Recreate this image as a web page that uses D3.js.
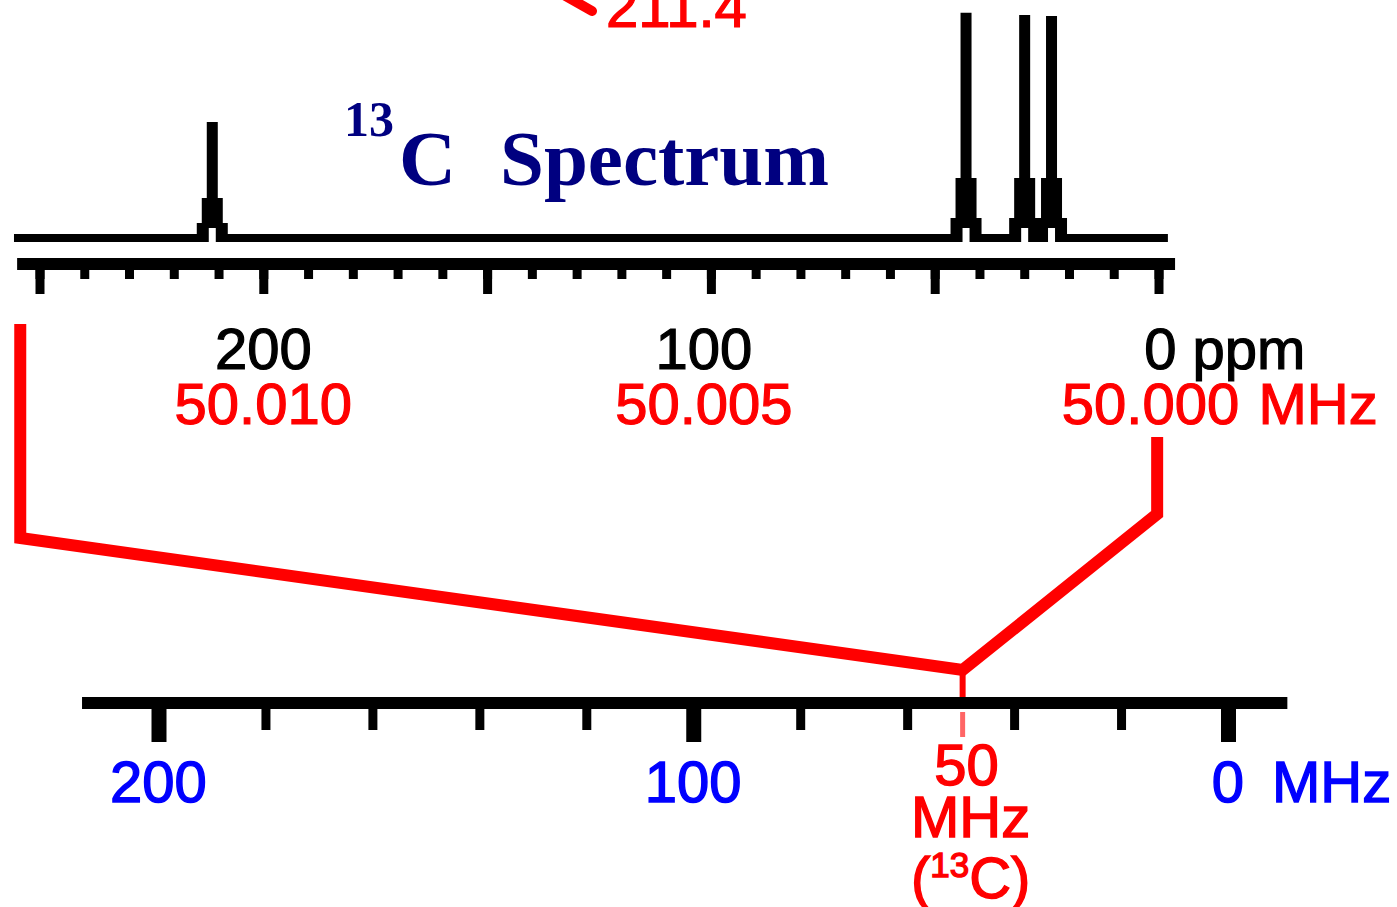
<!DOCTYPE html>
<html>
<head>
<meta charset="utf-8">
<script src="https://cdn.jsdelivr.net/npm/d3@7"></script>
<style>
  html, body { margin: 0; padding: 0; background: #fff; overflow: hidden; }
  svg { display: block; }
</style>
</head>
<body>
<svg id="chart" width="1397" height="907"></svg>
<script>
// ---------------- data ----------------
const peakPpm = [211.4, 43.0, 29.9, 23.9];
const peakIntensity = [0.52, 1.01, 1.0, 0.995];
const peakLabel = "211.4";
const ppmMajorTicks = [250, 200, 150, 100, 50, 0];
const ppmMinorTicks = d3.range(0, 251, 10);
const ppmLabels = [200, 100, 0];
const freqLabels = ["50.010", "50.005", "50.000"];
const ppmUnit = "ppm";
const freqUnit = "MHz";
const mhzMajorTicks = [200, 100, 0];
const mhzMinorTicks = [180, 160, 140, 120, 80, 60, 40, 20];
const mhzLabels = [200, 100, 0];
const carbonFreq = 50;
const titleSup = "13";
const titleMain = "C";
const titleWord = "Spectrum";

// ---------------- scales ----------------
const svg = d3.select("#chart");
const ppm = d3.scaleLinear().domain([250, 0]).range([39.5, 1158.5]);
const inten = d3.scaleLinear().domain([0, 1]).range([238, 15]);
const mhz = d3.scaleLinear().domain([200, 0]).range([158.5, 1228]);

const RED = "#ff0000", BLUE = "#0000ff", NAVY = "#000080";
const SANS = "'Liberation Sans', Arial, sans-serif";
const SERIF = "'Liberation Serif', 'Times New Roman', serif";
const labelOffset = x => (x === 100 ? -7 : 0);

// ---------------- top spectrum ----------------
const base = inten(0);
svg.append("line")
  .attr("x1", ppm(255.7)).attr("x2", ppm(-2.1))
  .attr("y1", base).attr("y2", base)
  .attr("stroke", "#000").attr("stroke-width", 8);

const peaks = peakPpm.map((p, i) => ({ ppm: p, h: peakIntensity[i] }));
function peakPath(d) {
  const cx = ppm(d.ppm), top = inten(d.h), H = base - top;
  const sh = Math.min(60, 0.345 * H), ft = Math.min(20, 0.13 * H);
  const p = d3.path();
  p.moveTo(cx - 5.5, top);
  p.lineTo(cx + 5.5, top);
  p.lineTo(cx + 5.5, base - sh);
  p.lineTo(cx + 10.5, base - sh);
  p.lineTo(cx + 10.5, base - ft);
  p.lineTo(cx + 15.5, base - ft);
  p.lineTo(cx + 15.5, base + 4);
  p.lineTo(cx - 15.5, base + 4);
  p.lineTo(cx - 15.5, base - ft);
  p.lineTo(cx - 10.5, base - ft);
  p.lineTo(cx - 10.5, base - sh);
  p.lineTo(cx - 5.5, base - sh);
  p.closePath();
  return p.toString();
}
svg.append("g").selectAll("path").data(peaks).join("path")
  .attr("d", peakPath).attr("fill", "#000");
svg.append("g").selectAll("rect").data(peaks).join("rect")
  .attr("x", d => ppm(d.ppm) - 3.5).attr("width", 7)
  .attr("y", base - 10).attr("height", 15)
  .attr("fill", "#fff");

// peak label (partly off-canvas at the top)
svg.append("path")
  .attr("d", "M548,-14 L592,11")
  .attr("stroke", RED).attr("stroke-width", 10).attr("stroke-linecap", "round");
svg.append("text").text(peakLabel)
  .attr("x", 606).attr("y", 27)
  .attr("font-family", SANS).attr("font-size", 58)
  .attr("fill", RED).attr("stroke", RED).attr("stroke-width", 1.2);

// title
const title = svg.append("g").attr("fill", NAVY).attr("font-family", SERIF).attr("font-weight", "bold");
title.append("text").text(titleSup).attr("x", 344).attr("y", 136).attr("font-size", 50);
title.append("text").text(titleMain).attr("x", 399).attr("y", 185).attr("font-size", 79);
title.append("text").text(titleWord).attr("x", 500).attr("y", 185).attr("font-size", 79);

// ppm axis
svg.append("rect")
  .attr("x", ppm(255)).attr("width", ppm(-3.7) - ppm(255))
  .attr("y", 258).attr("height", 12).attr("fill", "#000");
function styleAxis(g, w) {
  g.select(".domain").remove();
  g.selectAll(".tick line").attr("stroke", "#000").attr("stroke-width", w);
  g.selectAll(".tick text").remove();
}
svg.append("g").attr("transform", "translate(0,270)")
  .call(d3.axisBottom(ppm).tickValues(ppmMinorTicks).tickSize(9).tickFormat(""))
  .call(g => styleAxis(g, 9));
svg.append("g").attr("transform", "translate(0,270)")
  .call(d3.axisBottom(ppm).tickValues(ppmMajorTicks).tickSize(24).tickFormat(""))
  .call(g => styleAxis(g, 9));

// ppm labels
const lab = svg.append("g").attr("font-family", SANS).attr("font-size", 58).attr("stroke-width", 1.2);
lab.selectAll("text.ppm").data(ppmLabels).join("text").attr("class", "ppm")
  .text(d => d).attr("x", d => ppm(d) + labelOffset(d) + (d === 0 ? 2 : 0)).attr("y", 369)
  .attr("text-anchor", "middle").attr("fill", "#000").attr("stroke", "#000");
lab.append("text").text(ppmUnit).attr("x", ppm(0) + 34).attr("y", 369)
  .attr("fill", "#000").attr("stroke", "#000");
lab.selectAll("text.freq").data(freqLabels).join("text").attr("class", "freq")
  .text(d => d).attr("x", (d, i) => ppm(ppmLabels[i]) + labelOffset(ppmLabels[i]) + (i === 2 ? -8 : 0)).attr("y", 424)
  .attr("text-anchor", "middle").attr("fill", RED).attr("stroke", RED);
lab.append("text").text(freqUnit).attr("x", ppm(0) + 100).attr("y", 424)
  .attr("fill", RED).attr("stroke", RED);

// ---------------- red expansion bracket ----------------
const vx = mhz(carbonFreq) + 2;
const bracket = [
  [ppm(254.3), 324], [ppm(254.3), 538],
  [vx, 670],
  [ppm(0.3), 514], [ppm(0.3), 437]
];
svg.append("path")
  .attr("d", d3.line()(bracket))
  .attr("fill", "none").attr("stroke", RED).attr("stroke-width", 12)
  .attr("stroke-linejoin", "miter");
svg.append("line")
  .attr("x1", vx).attr("x2", vx).attr("y1", 670).attr("y2", 700)
  .attr("stroke", RED).attr("stroke-width", 6);

// ---------------- MHz axis ----------------
svg.append("rect")
  .attr("x", mhz(214.3)).attr("width", mhz(-11.1) - mhz(214.3))
  .attr("y", 697).attr("height", 12).attr("fill", "#000");
svg.append("g").attr("transform", "translate(0,709)")
  .call(d3.axisBottom(mhz).tickValues(mhzMinorTicks).tickSize(21).tickFormat(""))
  .call(g => styleAxis(g, 9));
svg.append("g").attr("transform", "translate(0,709)")
  .call(d3.axisBottom(mhz).tickValues(mhzMajorTicks).tickSize(33).tickFormat(""))
  .call(g => styleAxis(g, 15));
svg.append("line")
  .attr("x1", vx).attr("x2", vx).attr("y1", 712).attr("y2", 737)
  .attr("stroke", RED).attr("stroke-width", 5).attr("opacity", 0.6);

const blab = svg.append("g").attr("font-family", SANS).attr("font-size", 58)
  .attr("fill", BLUE).attr("stroke", BLUE).attr("stroke-width", 1.4);
blab.selectAll("text").data(mhzLabels).join("text")
  .text(d => d).attr("x", d => mhz(d)).attr("y", 802).attr("text-anchor", "middle");
blab.append("text").text(freqUnit).attr("x", mhz(0) + 44).attr("y", 802);

// 50 MHz (13C) label
const rlab = svg.append("g").attr("font-family", SANS).attr("font-size", 58)
  .attr("fill", RED).attr("stroke", RED).attr("stroke-width", 1.4)
  .attr("text-anchor", "middle");
rlab.append("text").text(carbonFreq).attr("x", vx + 4).attr("y", 785);
rlab.append("text").text(freqUnit).attr("x", vx + 8).attr("y", 837);
const c13 = rlab.append("text").attr("x", vx + 8).attr("y", 898);
c13.append("tspan").text("(");
c13.append("tspan").text(titleSup).attr("font-size", 35).attr("dy", -21);
c13.append("tspan").text(titleMain).attr("dy", 21);
c13.append("tspan").text(")");
</script>
</body>
</html>
